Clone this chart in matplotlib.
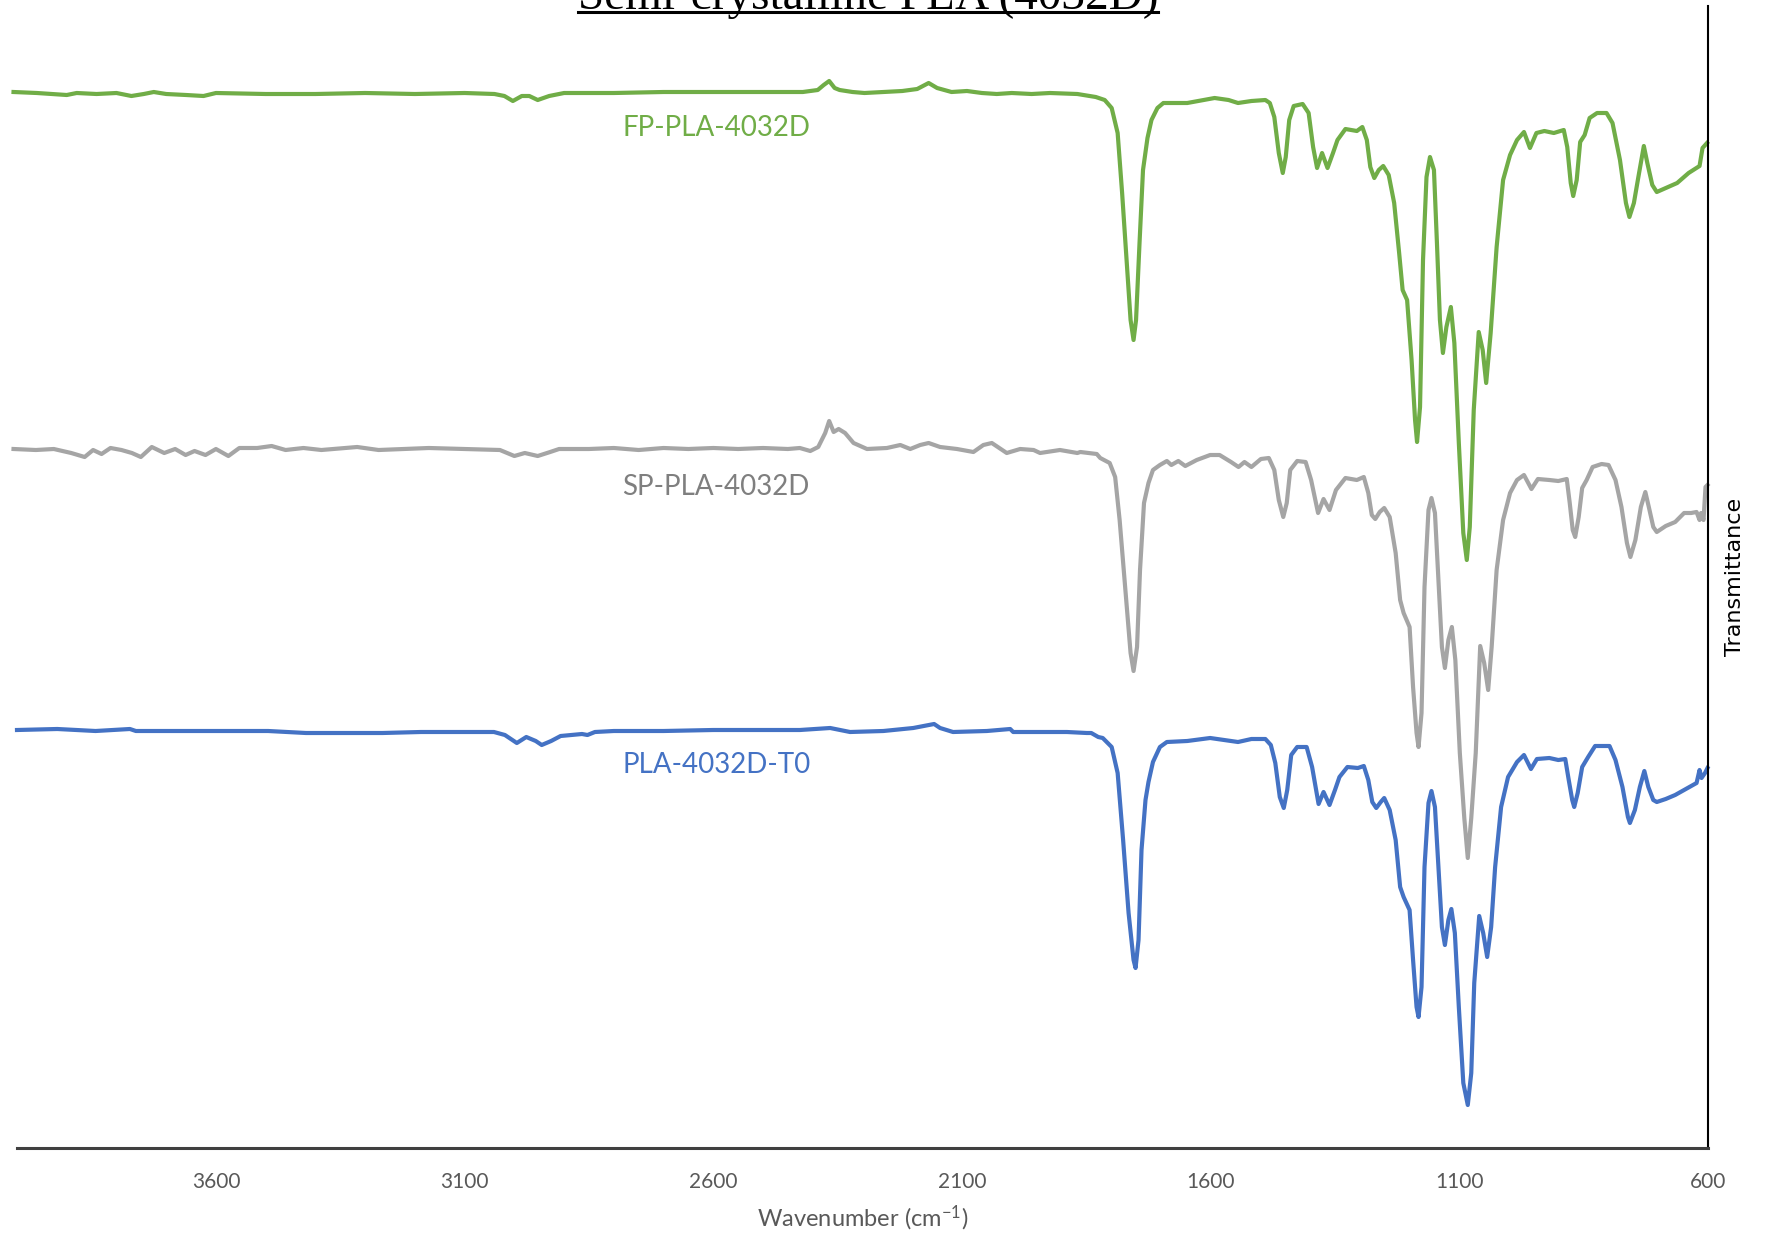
import matplotlib
matplotlib.use('Agg')
import matplotlib.pyplot as plt
from matplotlib.lines import Line2D

plt.rcParams['mathtext.fontset'] = 'custom'
plt.rcParams['mathtext.rm'] = 'Lato'
plt.rcParams['mathtext.it'] = 'Lato:italic'

# FTIR spectra, transmittance in arbitrary units (curves already stacked)
fp_wn = [4007, 3960, 3900, 3880, 3840, 3800, 3770, 3745, 3725, 3700, 3660, 3625, 3600, 3500, 3400,
         3300, 3200, 3100, 3040, 3020, 3003, 2985, 2970, 2953, 2930, 2900, 2800, 2700, 2600, 2500,
         2420, 2390, 2378, 2367, 2356, 2346, 2320, 2296, 2260, 2220, 2190, 2167, 2150, 2121, 2090,
         2060, 2030, 2000, 1960, 1923, 1868, 1831, 1813, 1799, 1787, 1778, 1768, 1761, 1755, 1750,
         1743, 1736, 1727, 1719, 1707, 1695, 1647, 1592, 1564, 1545, 1518, 1490, 1481, 1472, 1463,
         1455, 1449, 1442, 1433, 1415, 1403, 1394, 1386, 1376, 1365, 1354, 1345, 1329, 1306, 1295,
         1286, 1279, 1271, 1262, 1253, 1242, 1231, 1221, 1214, 1205, 1196, 1189, 1185, 1179, 1173,
         1166, 1159, 1151, 1145, 1139, 1133, 1126, 1117, 1110, 1101, 1092, 1085, 1079, 1071, 1061,
         1053, 1046, 1037, 1025, 1012, 998, 984, 970, 958, 945, 929, 910, 890, 883, 876,
         871, 864, 857, 848, 838, 823, 804, 792, 777, 765, 758, 749, 740, 729, 722,
         712, 703, 685, 662, 639, 617, 611, 602]
fp_t = [1056, 1055, 1053, 1055, 1054, 1055, 1052, 1054, 1056, 1054, 1053, 1052, 1055, 1054, 1054,
        1055, 1054, 1055, 1054, 1052, 1047, 1052, 1052, 1048, 1052, 1055, 1055, 1056, 1056, 1056,
        1056, 1058, 1063, 1067, 1060, 1058, 1056, 1055, 1056, 1057, 1059, 1065, 1060, 1056, 1057,
        1055, 1054, 1055, 1054, 1055, 1054, 1051, 1048, 1040, 1015, 955, 881, 828, 808, 828,
        905, 978, 1010, 1028, 1040, 1045, 1045, 1050, 1048, 1045, 1047, 1048, 1045, 1031, 995,
        975, 991, 1028, 1042, 1044, 1035, 1001, 980, 995, 980, 995, 1008, 1019, 1017, 1021,
        1008, 981, 970, 978, 982, 973, 945, 895, 858, 848, 788, 728, 706, 741, 888,
        971, 991, 978, 905, 828, 795, 821, 841, 805, 705, 615, 588, 621, 738, 816,
        798, 765, 815, 901, 968, 993, 1008, 1016, 1000, 1015, 1017, 1015, 1018, 1001, 965,
        952, 968, 1006, 1013, 1030, 1035, 1035, 1025, 988, 945, 931, 945, 971, 1002, 985,
        963, 956, 960, 965, 975, 982, 1000, 1005]

sp_wn = [4007, 3962, 3926, 3891, 3864, 3847, 3830, 3812, 3790, 3769, 3751, 3729, 3704, 3682, 3661,
         3643, 3621, 3600, 3575, 3553, 3517, 3488, 3460, 3424, 3388, 3316, 3273, 3172, 3101, 3029,
         3000, 2979, 2953, 2928, 2910, 2850, 2800, 2750, 2700, 2650, 2600, 2550, 2500, 2450, 2426,
         2405, 2389, 2375, 2367, 2358, 2348, 2335, 2318, 2291, 2251, 2224, 2204, 2184, 2167, 2144,
         2110, 2077, 2057, 2040, 2010, 1983, 1956, 1943, 1903, 1862, 1829, 1868, 1822, 1803, 1792,
         1783, 1771, 1761, 1755, 1748, 1742, 1734, 1725, 1716, 1702, 1688, 1679, 1665, 1651, 1628,
         1601, 1582, 1559, 1544, 1532, 1518, 1499, 1483, 1472, 1463, 1454, 1447, 1440, 1426, 1409,
         1398, 1384, 1373, 1361, 1348, 1329, 1306, 1292, 1283, 1276, 1269, 1260, 1251, 1240, 1228,
         1219, 1212, 1200, 1193, 1186, 1182, 1176, 1170, 1162, 1156, 1149, 1142, 1135, 1129, 1122,
         1115, 1108, 1099, 1090, 1083, 1076, 1067, 1058, 1050, 1042, 1035, 1025, 1012, 998, 984,
         970, 955, 942, 919, 901, 884, 878, 872, 867, 860, 853, 844, 832, 814, 800,
         786, 774, 763, 756, 746, 735, 726, 719, 710, 703, 685, 666, 648, 634, 623,
         617, 614, 609, 605, 601]
sp_t = [699, 698, 699, 695, 691, 698, 694, 700, 698, 695, 691, 701, 695, 699, 693,
        697, 693, 699, 692, 700, 700, 702, 698, 700, 698, 701, 698, 700, 699, 698,
        692, 695, 692, 696, 699, 699, 700, 698, 700, 699, 700, 699, 700, 699, 700,
        697, 701, 715, 727, 716, 719, 715, 705, 699, 700, 703, 699, 703, 705, 701,
        699, 696, 703, 705, 695, 699, 698, 695, 698, 696, 694, 695, 690, 685, 671,
        628, 555, 495, 477, 501, 578, 645, 665, 678, 683, 687, 683, 687, 682, 688,
        693, 693, 686, 681, 686, 681, 689, 690, 678, 648, 631, 645, 678, 687, 686,
        668, 635, 649, 638, 658, 670, 668, 671, 655, 633, 629, 636, 640, 631, 595,
        548, 535, 521, 461, 415, 401, 435, 561, 638, 650, 635, 568, 501, 480, 508,
        521, 488, 395, 330, 290, 330, 395, 502, 485, 458, 501, 578, 628, 655, 668,
        673, 659, 669, 668, 667, 669, 645, 618, 611, 631, 660, 668, 681, 684, 683,
        668, 641, 605, 591, 608, 641, 656, 641, 621, 616, 622, 626, 635, 635, 636,
        628, 635, 628, 661, 663]

t0_wn = [4000, 3919, 3842, 3773, 3761, 3688, 3572, 3495, 3419, 3342, 3265, 3188, 3111, 3041, 3019,
         2995, 2976, 2957, 2945, 2926, 2907, 2864, 2853, 2838, 2800, 2700, 2600, 2500, 2426, 2365,
         2325, 2258, 2198, 2156, 2144, 2118, 2050, 2003, 1997, 1957, 1889, 1849, 1826, 1840, 1817,
         1799, 1787, 1776, 1765, 1755, 1751, 1745, 1739, 1731, 1725, 1716, 1702, 1688, 1647, 1601,
         1573, 1545, 1518, 1490, 1479, 1470, 1461, 1453, 1446, 1438, 1426, 1407, 1396, 1383, 1373,
         1361, 1350, 1341, 1325, 1304, 1292, 1283, 1275, 1267, 1258, 1251, 1240, 1228, 1219, 1212,
         1200, 1193, 1186, 1182, 1176, 1170, 1162, 1156, 1149, 1142, 1135, 1129, 1122, 1116, 1109,
         1101, 1092, 1083, 1076, 1070, 1060, 1052, 1044, 1036, 1028, 1016, 1002, 984, 970, 956,
         944, 919, 901, 887, 880, 873, 869, 862, 853, 841, 827, 798, 786, 772, 761,
         757, 747, 737, 728, 720, 710, 703, 685, 666, 648, 634, 623, 617, 613, 606,
         601]
t0_t = [418, 419, 417, 419, 417, 417, 417, 417, 415, 415, 415, 416, 416, 416, 413,
        405, 411, 407, 403, 407, 412, 414, 413, 416, 417, 417, 418, 418, 418, 420,
        416, 417, 420, 424, 420, 416, 417, 419, 416, 416, 416, 415, 411, 415, 410,
        401, 375, 308, 235, 188, 180, 208, 298, 348, 366, 386, 401, 406, 407, 410,
        408, 406, 409, 409, 403, 385, 351, 340, 358, 393, 401, 401, 381, 344, 356,
        343, 358, 371, 381, 380, 382, 368, 346, 340, 346, 350, 338, 308, 261, 251,
        238, 188, 141, 131, 161, 281, 345, 357, 341, 281, 221, 203, 228, 239, 215,
        141, 65, 43, 75, 165, 232, 215, 191, 221, 281, 341, 371, 386, 393, 379,
        389, 390, 388, 389, 368, 348, 341, 355, 381, 391, 402, 402, 388, 361, 331,
        325, 338, 361, 377, 361, 348, 346, 349, 353, 358, 362, 365, 378, 370, 375,
        380]

# the SP data jumps back at 1829 -> 1868, sort each series by wavenumber
def sorted_pair(wn, t):
    pairs = sorted(zip(wn, t), key=lambda p: -p[0])
    return [p[0] for p in pairs], [p[1] for p in pairs]

series = [
    ('FP-PLA-4032D', fp_wn, fp_t, '#70AD47', '#70AD47', 1020),
    ('SP-PLA-4032D', sp_wn, sp_t, '#A5A5A5', '#7F7F7F', 661),
    ('PLA-4032D-T0', t0_wn, t0_t, '#4472C4', '#4472C4', 383),
]
label_wn = 2594
xticks = [3600, 3100, 2600, 2100, 1600, 1100, 600]

fig = plt.figure(figsize=(17.68, 12.37), dpi=100)
ax = fig.add_axes([17 / 1768, 1 - 1148 / 1237, (1708 - 17) / 1768, (1148 - 6) / 1237])

for name, wn, t, col, tcol, ly in series:
    x, y = sorted_pair(wn, t)
    ax.plot(x, y, color=col, lw=3, solid_joinstyle='round', clip_on=False)
    ax.text(label_wn, ly, name, color=tcol, fontsize=20, family='Lato',
            ha='center', va='center')

ax.set_xlim(4000, 600)
ax.set_ylim(0, 1142)
ax.set_xticks(xticks)
ax.set_xticklabels([str(v) for v in xticks])
ax.set_yticks([])
ax.tick_params(axis='x', length=0, pad=17, labelsize=15, labelcolor='#595959')
for lab in ax.get_xticklabels():
    lab.set_family('Lato')

ax.spines['left'].set_visible(False)
ax.spines['top'].set_visible(False)
ax.spines['bottom'].set_color('#404040')
ax.spines['bottom'].set_linewidth(2.2)
ax.spines['right'].set_color('black')
ax.spines['right'].set_linewidth(1.5)

ax.set_xlabel('Wavenumber (cm$^{\\mathrm{-1}}$)', fontsize=17, color='#595959', family='Lato',
              labelpad=9)
ax.yaxis.set_label_position('right')
ax.set_ylabel('Transmittance', fontsize=16, family='DejaVu Sans', labelpad=12)

title = fig.text(868 / 1768, 1 - 9 / 1237, 'Semi-crystalline PLA (4032D)', fontsize=34,
                 family='Liberation Serif', ha='center', va='baseline')
fig.canvas.draw()
bb = title.get_window_extent(fig.canvas.get_renderer())
uy = 1 - 12 / 1237
fig.add_artist(Line2D([bb.x0 / 1768, bb.x1 / 1768], [uy, uy], transform=fig.transFigure,
                      color='black', lw=2.2))

fig.savefig('out.png', dpi=100)
